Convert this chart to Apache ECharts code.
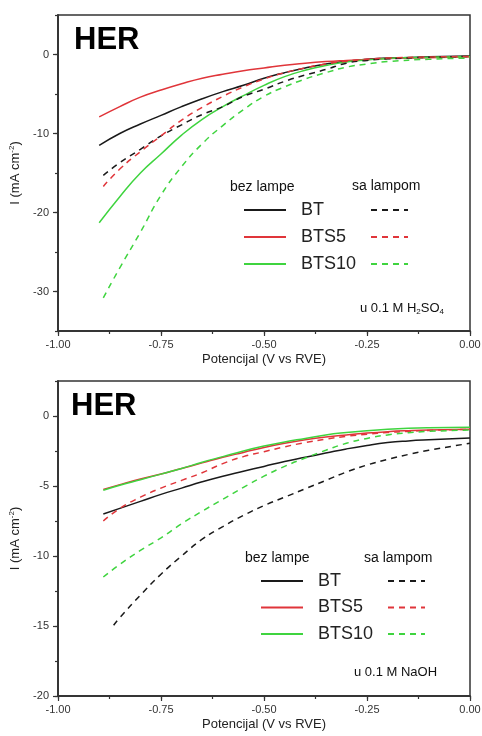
<!DOCTYPE html>
<html><head><meta charset="utf-8">
<script src="https://cdn.jsdelivr.net/npm/echarts@6/dist/echarts.min.js"></script>
<style>html,body{margin:0;padding:0;background:#fff}#c{width:482px;height:736px}</style>
</head><body><div id="c"></div>
<script>
// ---- data: potential (V vs RVE) and current (mA cm^-2) ----
const topX      = [-0.9,-0.85,-0.8,-0.75,-0.7,-0.65,-0.6,-0.55,-0.5,-0.45,-0.4,-0.35,-0.3,-0.25,-0.2,-0.1,0];
const topXLamp  = [-0.89,-0.85,-0.8,-0.75,-0.7,-0.65,-0.6,-0.55,-0.5,-0.45,-0.4,-0.35,-0.3,-0.25,-0.2,-0.1,0];
const topBT     = [-11.5,-10.0,-8.8,-7.7,-6.6,-5.6,-4.7,-3.9,-3.0,-2.3,-1.7,-1.2,-0.85,-0.6,-0.45,-0.3,-0.2];
const topBTS5   = [-7.9,-6.6,-5.4,-4.5,-3.7,-3.0,-2.5,-2.05,-1.7,-1.35,-1.1,-0.9,-0.75,-0.62,-0.52,-0.4,-0.3];
const topBTS10  = [-21.3,-18,-15,-12.6,-10.2,-8.2,-6.6,-5.2,-3.9,-2.8,-2.0,-1.4,-0.95,-0.7,-0.5,-0.35,-0.25];
const topBTL    = [-15.3,-13.7,-12.0,-10.3,-8.9,-7.6,-6.6,-5.3,-4.4,-3.4,-2.6,-1.9,-1.1,-0.75,-0.55,-0.35,-0.25];
const topBTS5L  = [-16.7,-14.5,-12.3,-10.3,-8.3,-6.7,-5.3,-4.1,-3.1,-2.3,-1.7,-1.2,-0.85,-0.6,-0.45,-0.32,-0.25];
const topBTS10L = [-30.8,-27.0,-22.5,-17.8,-14.2,-11.3,-9.0,-7.0,-5.3,-4.1,-3.1,-2.3,-1.6,-1.2,-0.9,-0.6,-0.45];

const botX      = [-0.89,-0.85,-0.8,-0.75,-0.7,-0.65,-0.6,-0.55,-0.5,-0.45,-0.4,-0.35,-0.3,-0.25,-0.2,-0.15,-0.1,0];
const botXBTL   = [-0.865,-0.85,-0.8,-0.75,-0.7,-0.65,-0.6,-0.55,-0.5,-0.45,-0.4,-0.35,-0.3,-0.25,-0.2,-0.15,-0.1,0];
const botBT     = [-7.0,-6.6,-6.1,-5.6,-5.15,-4.7,-4.3,-3.95,-3.6,-3.25,-2.95,-2.65,-2.35,-2.1,-1.9,-1.78,-1.7,-1.57];
const botBTS5   = [-5.25,-4.9,-4.5,-4.15,-3.75,-3.35,-2.95,-2.6,-2.25,-1.95,-1.7,-1.5,-1.35,-1.22,-1.12,-1.05,-1.0,-0.95];
const botBTS10  = [-5.3,-4.95,-4.55,-4.15,-3.75,-3.3,-2.9,-2.5,-2.15,-1.85,-1.6,-1.35,-1.18,-1.05,-0.95,-0.88,-0.84,-0.8];
const botBTL    = [-14.95,-14.4,-12.8,-11.3,-10.0,-8.8,-7.9,-7.1,-6.4,-5.8,-5.2,-4.6,-4.0,-3.5,-3.1,-2.75,-2.45,-1.95];
const botBTS5L  = [-7.5,-6.6,-5.8,-5.15,-4.6,-4.05,-3.4,-2.9,-2.55,-2.2,-1.9,-1.65,-1.45,-1.3,-1.18,-1.1,-1.03,-0.95];
const botBTS10L = [-11.5,-10.6,-9.6,-8.7,-7.7,-6.8,-5.95,-5.1,-4.3,-3.6,-3.0,-2.45,-1.95,-1.6,-1.35,-1.2,-1.1,-1.0];

const sampleNames = ['BT','BTS5','BTS10'];
const lampNames = ['BT sa lampom','BTS5 sa lampom','BTS10 sa lampom'];
const xTickLabels = ['-1.00','-0.75','-0.50','-0.25','0.00'];
const topYLabels = [-30,-20,-10,0];
const botYLabels = [-20,-15,-10,-5,0];

const FONT = 'Liberation Sans, Arial, sans-serif';
const COLORS = ['#1a1a1a','#e0353a','#3fd43f'];
const AX = '#333';

const zip = (xs, ys) => xs.map((x,i)=>[x, ys[i]]);

function xAxes(gi){
  return [
    {type:'value', gridIndex:gi, position:'bottom', min:-1, max:0, interval:0.125,
     axisLine:{show:true,onZero:false,lineStyle:{color:AX,width:1.5}},
     axisTick:{show:true,length:3,lineStyle:{color:AX,width:1.2}},
     axisLabel:{show:false}, splitLine:{show:false}},
    {type:'value', gridIndex:gi, position:'bottom', min:-1, max:0, interval:0.25,
     axisLine:{show:true,onZero:false,lineStyle:{color:AX,width:1.5}},
     axisTick:{show:true,length:5,lineStyle:{color:AX,width:1.2}},
     axisLabel:{show:true,margin:8,fontSize:11,color:'#333',fontFamily:FONT,
       formatter:v=>xTickLabels[Math.round((v+1)*4)]},
     splitLine:{show:false},
     name:'Potencijal (V vs RVE)', nameLocation:'middle', nameGap:22,
     nameTextStyle:{fontSize:13,color:'#222',fontFamily:FONT}}
  ];
}
function yAxes(gi,min,max,minor,major,labels){
  return [
    {type:'value', gridIndex:gi, position:'left', min, max, interval:minor,
     axisLine:{show:true,onZero:false,lineStyle:{color:AX,width:1.5}},
     axisTick:{show:true,length:3,lineStyle:{color:AX,width:1.2}},
     axisLabel:{show:false}, splitLine:{show:false}},
    {type:'value', gridIndex:gi, position:'left', min, max, interval:minor,
     axisLine:{show:true,onZero:false,lineStyle:{color:AX,width:1.5}},
     axisTick:{show:true,length:5,customValues:labels,lineStyle:{color:AX,width:1.2}},
     axisLabel:{show:true,margin:9,fontSize:11,color:'#333',fontFamily:FONT,customValues:labels,
       formatter:v=>(Math.abs(v/major-Math.round(v/major))<1e-6? String(v):'')},
     splitLine:{show:false},
     name:'I (mA cm{s|-2})', nameLocation:'middle', nameGap:30, nameRotate:90,
     nameTextStyle:{fontSize:13,color:'#222',fontFamily:FONT,
       rich:{s:{fontSize:8,color:'#222',fontFamily:FONT,padding:[0,0,8,0]}}}}
  ];
}

function line(name, data, xi, yi, color, dashed){
  return {type:'line', name, data, xAxisIndex:xi, yAxisIndex:yi, smooth:true,
    symbol:'none', showSymbol:false, silent:true, animation:false,
    lineStyle:{color, width:1.5, type: dashed?[6,5]:'solid'}, itemStyle:{color}};
}

const series = [
  line('BT', zip(topX, topBT), 1, 1, COLORS[0], false),
  line('BTS5', zip(topX, topBTS5), 1, 1, COLORS[1], false),
  line('BTS10', zip(topX, topBTS10), 1, 1, COLORS[2], false),
  line('BT sa lampom', zip(topXLamp, topBTL), 1, 1, COLORS[0], true),
  line('BTS5 sa lampom', zip(topXLamp, topBTS5L), 1, 1, COLORS[1], true),
  line('BTS10 sa lampom', zip(topXLamp, topBTS10L), 1, 1, COLORS[2], true),
  line('BT', zip(botX, botBT), 3, 3, COLORS[0], false),
  line('BTS5', zip(botX, botBTS5), 3, 3, COLORS[1], false),
  line('BTS10', zip(botX, botBTS10), 3, 3, COLORS[2], false),
  line('BT sa lampom', zip(botXBTL, botBTL), 3, 3, COLORS[0], true),
  line('BTS5 sa lampom', zip(botX, botBTS5L), 3, 3, COLORS[1], true),
  line('BTS10 sa lampom', zip(botX, botBTS10L), 3, 3, COLORS[2], true)
];

function legend(data, left, top, w, gap, showText){
  return {show:true, data, left, top, orient:'vertical', itemWidth:w, itemHeight:14, itemGap:gap,
    selectedMode:false, padding:0,
    itemStyle:{opacity:0, borderWidth:0},
    formatter: showText ? '{a|{name}}' : ' ',
    textStyle:{fontSize:18,color:'#222',fontFamily:FONT,
      rich:{a:{fontSize:18,color:'#222',fontFamily:FONT,padding:[0,0,0,10]}}}};
}

const txt = (left, top, text, size, extra) => ({type:'text', left, top,
  style:Object.assign({text, fontSize:size, fill:'#111', fontFamily:FONT}, extra||{})});

const option = {
  backgroundColor:'#fff',
  animation:false,
  grid:[
    {left:58, top:15, width:412, height:316, show:true, borderColor:AX, borderWidth:1.5, backgroundColor:'transparent', outerBoundsMode:'none', containLabel:false},
    {left:58, top:381, width:412, height:315, show:true, borderColor:AX, borderWidth:1.5, backgroundColor:'transparent', outerBoundsMode:'none', containLabel:false}
  ],
  xAxis:[...xAxes(0), ...xAxes(1)],
  yAxis:[...yAxes(0,-35,5,5,10,topYLabels), ...yAxes(1,-20,2.5,2.5,5,botYLabels)],
  legend:[
    legend(sampleNames, 243, 201, 42, 9, true),
    legend(lampNames, 370, 201, 37, 9, false),
    legend(sampleNames, 260, 572, 42, 8.5, true),
    legend(lampNames, 387, 572, 37, 8.5, false)
  ],
  graphic:[
    txt(74, 25, 'HER', 31, {fontWeight:'bold', fill:'#000'}),
    txt(71, 391, 'HER', 31, {fontWeight:'bold', fill:'#000'}),
    txt(230, 180, 'bez lampe', 14),
    txt(352, 179, 'sa lampom', 14),
    txt(245, 551, 'bez lampe', 14),
    txt(364, 551, 'sa lampom', 14),
    txt(360, 302, 'u 0.1 M H{b|2}SO{b|4}', 13, {rich:{b:{fontSize:8, fill:'#111', fontFamily:FONT, padding:[7,0,0,0]}}}),
    txt(354, 666, 'u 0.1 M NaOH', 13)
  ],
  series
};

const chart = echarts.init(document.getElementById('c'), null, {renderer:'canvas'});
chart.setOption(option);
</script></body></html>
